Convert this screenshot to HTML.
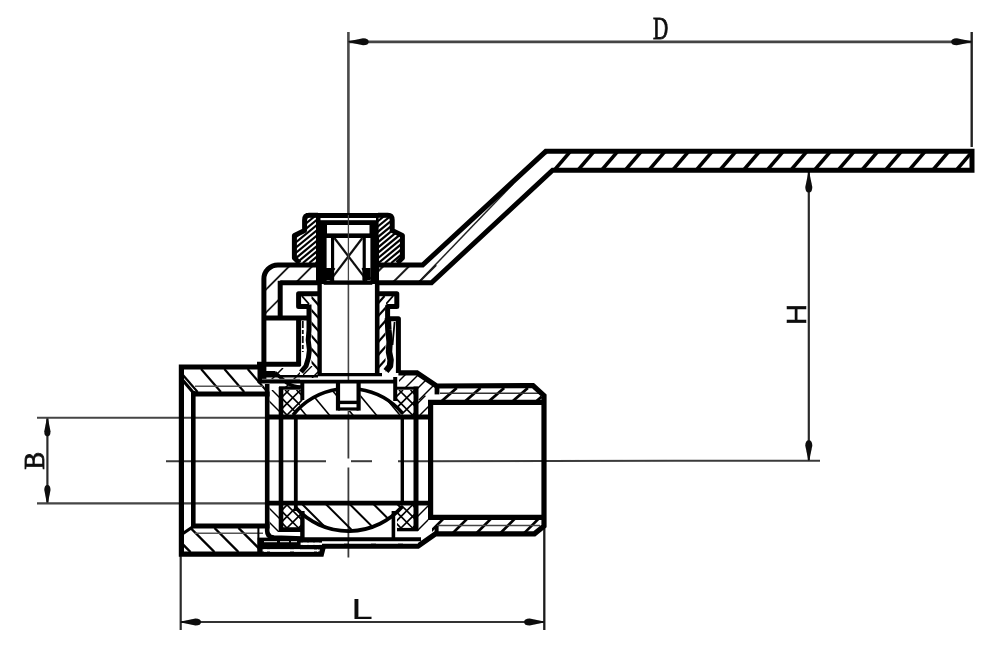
<!DOCTYPE html>
<html><head><meta charset="utf-8"><title>Ball valve drawing</title>
<style>html,body{margin:0;padding:0;background:#fff}svg{display:block}</style></head>
<body><svg width="1000" height="658" viewBox="0 0 1000 658">
<rect width="1000" height="658" fill="#fff"/>
<defs><filter id="soft" x="-2%" y="-2%" width="104%" height="104%"><feGaussianBlur stdDeviation="0.65"/></filter></defs>
<g filter="url(#soft)">
<line x1="348.4" y1="32" x2="348.4" y2="214" stroke="#4a4a4a" stroke-width="2.6" stroke-linecap="butt" />
<line x1="348.4" y1="214" x2="348.4" y2="236" stroke="#3a3a3a" stroke-width="2.0" stroke-linecap="butt" />
<line x1="348.4" y1="236" x2="348.4" y2="418" stroke="#444" stroke-width="1.6" stroke-linecap="butt" />
<line x1="348.4" y1="418" x2="348.4" y2="458.5" stroke="#3a3a3a" stroke-width="1.8" stroke-linecap="butt" />
<line x1="348.4" y1="467.5" x2="348.4" y2="557.5" stroke="#3a3a3a" stroke-width="1.8" stroke-linecap="butt" />
<line x1="166" y1="461.2" x2="326" y2="461.2" stroke="#3a3a3a" stroke-width="2.0" stroke-linecap="butt" />
<line x1="351" y1="461.2" x2="372" y2="461.2" stroke="#3a3a3a" stroke-width="2.0" stroke-linecap="butt" />
<line x1="398" y1="461.2" x2="820" y2="460.7" stroke="#3a3a3a" stroke-width="2.0" stroke-linecap="butt" />
<line x1="348.4" y1="41.8" x2="971.7" y2="41.8" stroke="#444" stroke-width="2.7" stroke-linecap="butt" />
<line x1="971.7" y1="32" x2="971.7" y2="147" stroke="#222" stroke-width="2.4" stroke-linecap="butt" />
<path transform="translate(348.7 41.8) rotate(180)" d="M0.5 0 L0 0.5 L-14.40 3.50 Q-20.00 3.50 -20.00 0 Q-20.00 -3.50 -14.40 -3.50 L0 -0.5 Z" fill="#0a0a0a"/>
<path transform="translate(971.2 41.8) rotate(0)" d="M0.5 0 L0 0.5 L-14.40 3.50 Q-20.00 3.50 -20.00 0 Q-20.00 -3.50 -14.40 -3.50 L0 -0.5 Z" fill="#0a0a0a"/>
<line x1="808.8" y1="172" x2="808.8" y2="460" stroke="#2a2a2a" stroke-width="2.2" stroke-linecap="butt" />
<path transform="translate(808.8 172.5) rotate(-90)" d="M0.5 0 L0 0.5 L-14.40 3.50 Q-20.00 3.50 -20.00 0 Q-20.00 -3.50 -14.40 -3.50 L0 -0.5 Z" fill="#0a0a0a"/>
<path transform="translate(808.8 460.2) rotate(90)" d="M0.5 0 L0 0.5 L-14.40 3.50 Q-20.00 3.50 -20.00 0 Q-20.00 -3.50 -14.40 -3.50 L0 -0.5 Z" fill="#0a0a0a"/>
<line x1="47.4" y1="418" x2="47.4" y2="503" stroke="#2a2a2a" stroke-width="2.2" stroke-linecap="butt" />
<path transform="translate(47.4 418) rotate(-90)" d="M0.5 0 L0 0.5 L-13.32 3.10 Q-18.50 3.10 -18.50 0 Q-18.50 -3.10 -13.32 -3.10 L0 -0.5 Z" fill="#0a0a0a"/>
<path transform="translate(47.4 503.4) rotate(90)" d="M0.5 0 L0 0.5 L-13.32 3.10 Q-18.50 3.10 -18.50 0 Q-18.50 -3.10 -13.32 -3.10 L0 -0.5 Z" fill="#0a0a0a"/>
<line x1="37" y1="417.8" x2="265" y2="417.8" stroke="#444" stroke-width="2.1" stroke-linecap="butt" />
<line x1="37" y1="503.4" x2="265" y2="503.4" stroke="#444" stroke-width="2.1" stroke-linecap="butt" />
<line x1="180.7" y1="556" x2="180.7" y2="630" stroke="#2a2a2a" stroke-width="2.2" stroke-linecap="butt" />
<line x1="544.3" y1="526" x2="544.3" y2="630" stroke="#1a1a1a" stroke-width="2.3" stroke-linecap="butt" />
<line x1="180.7" y1="622" x2="544.3" y2="622" stroke="#333" stroke-width="2.2" stroke-linecap="butt" />
<path transform="translate(181 622) rotate(180)" d="M0.5 0 L0 0.5 L-14.40 3.50 Q-20.00 3.50 -20.00 0 Q-20.00 -3.50 -14.40 -3.50 L0 -0.5 Z" fill="#0a0a0a"/>
<path transform="translate(544.1 622) rotate(0)" d="M0.5 0 L0 0.5 L-14.40 3.50 Q-20.00 3.50 -20.00 0 Q-20.00 -3.50 -14.40 -3.50 L0 -0.5 Z" fill="#0a0a0a"/>
<clipPath id="c1"><path d="M551 170 L545.5 151 L972 151 L972 170 Z"/></clipPath>
<g clip-path="url(#c1)" stroke="#000" stroke-width="3.5">
<line x1="483.55" y1="170" x2="499.75" y2="151"/>
<line x1="507.20" y1="170" x2="523.40" y2="151"/>
<line x1="530.85" y1="170" x2="547.05" y2="151"/>
<line x1="554.50" y1="170" x2="570.70" y2="151"/>
<line x1="578.15" y1="170" x2="594.35" y2="151"/>
<line x1="601.80" y1="170" x2="618.00" y2="151"/>
<line x1="625.45" y1="170" x2="641.65" y2="151"/>
<line x1="649.10" y1="170" x2="665.30" y2="151"/>
<line x1="672.75" y1="170" x2="688.95" y2="151"/>
<line x1="696.40" y1="170" x2="712.60" y2="151"/>
<line x1="720.05" y1="170" x2="736.25" y2="151"/>
<line x1="743.70" y1="170" x2="759.90" y2="151"/>
<line x1="767.35" y1="170" x2="783.55" y2="151"/>
<line x1="791.00" y1="170" x2="807.20" y2="151"/>
<line x1="814.65" y1="170" x2="830.85" y2="151"/>
<line x1="838.30" y1="170" x2="854.50" y2="151"/>
<line x1="861.95" y1="170" x2="878.15" y2="151"/>
<line x1="885.60" y1="170" x2="901.80" y2="151"/>
<line x1="909.25" y1="170" x2="925.45" y2="151"/>
<line x1="932.90" y1="170" x2="949.10" y2="151"/>
<line x1="956.55" y1="170" x2="972.75" y2="151"/>
<line x1="980.20" y1="170" x2="996.40" y2="151"/>
<line x1="1003.85" y1="170" x2="1020.05" y2="151"/>
</g>
<line x1="419.3" y1="281.5" x2="513" y2="184" stroke="#222" stroke-width="1.5" stroke-linecap="butt" />
<clipPath id="c2"><path d="M266 279 A12 12 0 0 1 278 267 L318 267 L318 282.6 L281 282.6 L281 318 L266 318 Z"/></clipPath>
<g clip-path="url(#c2)" stroke="#1a1a1a" stroke-width="1.9">
<line x1="168.50" y1="318" x2="221.50" y2="265"/>
<line x1="191.50" y1="318" x2="244.50" y2="265"/>
<line x1="214.50" y1="318" x2="267.50" y2="265"/>
<line x1="237.50" y1="318" x2="290.50" y2="265"/>
<line x1="260.50" y1="318" x2="313.50" y2="265"/>
<line x1="283.50" y1="318" x2="336.50" y2="265"/>
<line x1="306.50" y1="318" x2="359.50" y2="265"/>
<line x1="329.50" y1="318" x2="382.50" y2="265"/>
<line x1="352.50" y1="318" x2="405.50" y2="265"/>
<line x1="375.50" y1="318" x2="428.50" y2="265"/>
</g>
<clipPath id="c3"><path d="M378 265 L422 265 L440 250 L445 270 L431 282 L378 282 Z"/></clipPath>
<g clip-path="url(#c3)" stroke="#1a1a1a" stroke-width="2.0">
<line x1="315.90" y1="282" x2="332.90" y2="265"/>
<line x1="341.70" y1="282" x2="358.70" y2="265"/>
<line x1="367.50" y1="282" x2="384.50" y2="265"/>
<line x1="393.30" y1="282" x2="410.30" y2="265"/>
<line x1="419.10" y1="282" x2="436.10" y2="265"/>
<line x1="444.90" y1="282" x2="461.90" y2="265"/>
<line x1="470.70" y1="282" x2="487.70" y2="265"/>
</g>
<path d="M263.9 381 L263.9 279 A14 14 0 0 1 277.9 265 L318 265" fill="none" stroke="#000" stroke-width="5.0" stroke-linejoin="miter" stroke-linecap="butt"/>
<path d="M378 265 L422.6 265 L545.8 151.3 L972 151.3 L972 170.2 L552.6 170.2 L431.5 282.8 L378 282.8" fill="none" stroke="#000" stroke-width="5.0" stroke-linejoin="miter" stroke-linecap="butt"/>
<line x1="280.2" y1="282.8" x2="318" y2="282.8" stroke="#000" stroke-width="5.0" stroke-linecap="butt" />
<line x1="280.2" y1="280.8" x2="280.2" y2="318" stroke="#000" stroke-width="5.0" stroke-linecap="butt" />
<line x1="262" y1="318" x2="309" y2="318" stroke="#000" stroke-width="5.0" stroke-linecap="butt" />
<line x1="298.6" y1="318" x2="298.6" y2="366" stroke="#000" stroke-width="5.0" stroke-linecap="butt" />
<line x1="257" y1="364.2" x2="300.4" y2="364.2" stroke="#000" stroke-width="5.0" stroke-linecap="butt" />
<clipPath id="c4"><path d="M307 215.2 L318 215.2 L318 263 L299 263 L294.3 258 L294.3 235.5 L304.5 230.5 L304.5 219 Q304.5 215.2 308 215.2 Z"/></clipPath>
<g clip-path="url(#c4)" stroke="#000" stroke-width="2.2">
<line x1="226.00" y1="263" x2="284.29" y2="215"/>
<line x1="232.40" y1="263" x2="290.69" y2="215"/>
<line x1="238.80" y1="263" x2="297.09" y2="215"/>
<line x1="245.20" y1="263" x2="303.49" y2="215"/>
<line x1="251.60" y1="263" x2="309.89" y2="215"/>
<line x1="258.00" y1="263" x2="316.29" y2="215"/>
<line x1="264.40" y1="263" x2="322.69" y2="215"/>
<line x1="270.80" y1="263" x2="329.09" y2="215"/>
<line x1="277.20" y1="263" x2="335.49" y2="215"/>
<line x1="283.60" y1="263" x2="341.89" y2="215"/>
<line x1="290.00" y1="263" x2="348.29" y2="215"/>
<line x1="296.40" y1="263" x2="354.69" y2="215"/>
<line x1="302.80" y1="263" x2="361.09" y2="215"/>
<line x1="309.20" y1="263" x2="367.49" y2="215"/>
<line x1="315.60" y1="263" x2="373.89" y2="215"/>
<line x1="322.00" y1="263" x2="380.29" y2="215"/>
<line x1="328.40" y1="263" x2="386.69" y2="215"/>
<line x1="334.80" y1="263" x2="393.09" y2="215"/>
<line x1="341.20" y1="263" x2="399.49" y2="215"/>
<line x1="347.60" y1="263" x2="405.89" y2="215"/>
<line x1="354.00" y1="263" x2="412.29" y2="215"/>
<line x1="360.40" y1="263" x2="418.69" y2="215"/>
<line x1="366.80" y1="263" x2="425.09" y2="215"/>
<line x1="373.20" y1="263" x2="431.49" y2="215"/>
<line x1="379.60" y1="263" x2="437.89" y2="215"/>
</g>
<clipPath id="c5"><path d="M389.8 215.2 L378 215.2 L378 263 L397.8 263 L402.5 258 L402.5 235.5 L392.3 230.5 L392.3 219 Q392.3 215.2 388.8 215.2 Z"/></clipPath>
<g clip-path="url(#c5)" stroke="#000" stroke-width="2.2">
<line x1="308.00" y1="263" x2="366.29" y2="215"/>
<line x1="314.40" y1="263" x2="372.69" y2="215"/>
<line x1="320.80" y1="263" x2="379.09" y2="215"/>
<line x1="327.20" y1="263" x2="385.49" y2="215"/>
<line x1="333.60" y1="263" x2="391.89" y2="215"/>
<line x1="340.00" y1="263" x2="398.29" y2="215"/>
<line x1="346.40" y1="263" x2="404.69" y2="215"/>
<line x1="352.80" y1="263" x2="411.09" y2="215"/>
<line x1="359.20" y1="263" x2="417.49" y2="215"/>
<line x1="365.60" y1="263" x2="423.89" y2="215"/>
<line x1="372.00" y1="263" x2="430.29" y2="215"/>
<line x1="378.40" y1="263" x2="436.69" y2="215"/>
<line x1="384.80" y1="263" x2="443.09" y2="215"/>
<line x1="391.20" y1="263" x2="449.49" y2="215"/>
<line x1="397.60" y1="263" x2="455.89" y2="215"/>
<line x1="404.00" y1="263" x2="462.29" y2="215"/>
<line x1="410.40" y1="263" x2="468.69" y2="215"/>
<line x1="416.80" y1="263" x2="475.09" y2="215"/>
<line x1="423.20" y1="263" x2="481.49" y2="215"/>
<line x1="429.60" y1="263" x2="487.89" y2="215"/>
<line x1="436.00" y1="263" x2="494.29" y2="215"/>
<line x1="442.40" y1="263" x2="500.69" y2="215"/>
<line x1="448.80" y1="263" x2="507.09" y2="215"/>
<line x1="455.20" y1="263" x2="513.49" y2="215"/>
<line x1="461.60" y1="263" x2="519.89" y2="215"/>
</g>
<path d="M318 215.2 L309 215.2 Q304.6 215.2 304.6 220 L304.6 230.5 L294.4 235.5 L294.4 258 L299.5 263" fill="none" stroke="#000" stroke-width="5.0" stroke-linejoin="round" stroke-linecap="butt"/>
<path d="M378 215.2 L387.8 215.2 Q392.2 215.2 392.2 220 L392.2 230.5 L402.4 235.5 L402.4 258 L397.3 263" fill="none" stroke="#000" stroke-width="5.0" stroke-linejoin="round" stroke-linecap="butt"/>
<line x1="306" y1="215.2" x2="390" y2="215.2" stroke="#000" stroke-width="4.2" stroke-linecap="butt" />
<rect x="316" y="217" width="62.6" height="21" fill="#000"/>
<rect x="320.5" y="218.0" width="55.5" height="2.2" fill="#fff"/>
<rect x="327" y="225" width="42.5" height="8.4" fill="#fff"/>
<rect x="316" y="238" width="10.6" height="46" fill="#000"/>
<rect x="370.4" y="238" width="8.6" height="46" fill="#000"/>
<rect x="327.3" y="239.5" width="2.5" height="20" fill="#fff"/>
<rect x="367.0" y="239.5" width="2.5" height="20" fill="#fff"/>
<rect x="331" y="238" width="3.4" height="44" fill="#000"/>
<rect x="362.4" y="238" width="3.4" height="44" fill="#000"/>
<rect x="327.2" y="262" width="3" height="3" fill="#fff"/>
<rect x="366.6" y="262" width="3" height="3" fill="#fff"/>
<rect x="334.4" y="238" width="28" height="42.6" fill="#fff"/>
<line x1="334.4" y1="238" x2="367" y2="280.6" stroke="#111" stroke-width="2.2" stroke-linecap="butt" />
<line x1="362.4" y1="238" x2="330" y2="280.6" stroke="#111" stroke-width="2.2" stroke-linecap="butt" />
<path d="M334.4 268 L326.5 279" fill="none" stroke="#000" stroke-width="2.4" stroke-linejoin="miter" stroke-linecap="butt"/>
<path d="M362.4 268 L370.3 279" fill="none" stroke="#000" stroke-width="2.4" stroke-linejoin="miter" stroke-linecap="butt"/>
<rect x="326" y="268" width="8" height="12" fill="#000"/>
<rect x="362.6" y="268" width="8" height="12" fill="#000"/>
<rect x="323.7" y="280.4" width="48.6" height="4.4" fill="#000"/>
<line x1="348.4" y1="215" x2="348.4" y2="281" stroke="#444" stroke-width="1.3" stroke-linecap="butt" />
<line x1="319.6" y1="284" x2="319.6" y2="376" stroke="#000" stroke-width="4.4" stroke-linecap="butt" />
<line x1="377.2" y1="284" x2="377.2" y2="376" stroke="#000" stroke-width="4.6" stroke-linecap="butt" />
<line x1="318" y1="374.6" x2="382" y2="374.6" stroke="#000" stroke-width="3.2" stroke-linecap="butt" />
<clipPath id="c6"><path d="M311.5 296 L318 296 L318 372 L311.5 372 Z"/></clipPath>
<g clip-path="url(#c6)" stroke="#000" stroke-width="2.2">
<line x1="228.50" y1="372" x2="160.94" y2="296"/>
<line x1="240.00" y1="372" x2="172.44" y2="296"/>
<line x1="251.50" y1="372" x2="183.94" y2="296"/>
<line x1="263.00" y1="372" x2="195.44" y2="296"/>
<line x1="274.50" y1="372" x2="206.94" y2="296"/>
<line x1="286.00" y1="372" x2="218.44" y2="296"/>
<line x1="297.50" y1="372" x2="229.94" y2="296"/>
<line x1="309.00" y1="372" x2="241.44" y2="296"/>
<line x1="320.50" y1="372" x2="252.94" y2="296"/>
<line x1="332.00" y1="372" x2="264.44" y2="296"/>
<line x1="343.50" y1="372" x2="275.94" y2="296"/>
<line x1="355.00" y1="372" x2="287.44" y2="296"/>
<line x1="366.50" y1="372" x2="298.94" y2="296"/>
<line x1="378.00" y1="372" x2="310.44" y2="296"/>
<line x1="389.50" y1="372" x2="321.94" y2="296"/>
</g>
<clipPath id="c7"><path d="M379 296 L385.5 296 L385.5 372 L379 372 Z"/></clipPath>
<g clip-path="url(#c7)" stroke="#000" stroke-width="2.2">
<line x1="294.00" y1="372" x2="361.56" y2="296"/>
<line x1="305.50" y1="372" x2="373.06" y2="296"/>
<line x1="317.00" y1="372" x2="384.56" y2="296"/>
<line x1="328.50" y1="372" x2="396.06" y2="296"/>
<line x1="340.00" y1="372" x2="407.56" y2="296"/>
<line x1="351.50" y1="372" x2="419.06" y2="296"/>
<line x1="363.00" y1="372" x2="430.56" y2="296"/>
<line x1="374.50" y1="372" x2="442.06" y2="296"/>
<line x1="386.00" y1="372" x2="453.56" y2="296"/>
<line x1="397.50" y1="372" x2="465.06" y2="296"/>
<line x1="409.00" y1="372" x2="476.56" y2="296"/>
<line x1="420.50" y1="372" x2="488.06" y2="296"/>
<line x1="432.00" y1="372" x2="499.56" y2="296"/>
<line x1="443.50" y1="372" x2="511.06" y2="296"/>
<line x1="455.00" y1="372" x2="522.56" y2="296"/>
</g>
<clipPath id="c8"><path d="M301 296 L311 296 L311 304 L301 304 Z"/></clipPath>
<g clip-path="url(#c8)" stroke="#000" stroke-width="1.8">
<line x1="274.50" y1="304" x2="267.39" y2="296"/>
<line x1="286.00" y1="304" x2="278.89" y2="296"/>
<line x1="297.50" y1="304" x2="290.39" y2="296"/>
<line x1="309.00" y1="304" x2="301.89" y2="296"/>
<line x1="320.50" y1="304" x2="313.39" y2="296"/>
</g>
<clipPath id="c9"><path d="M386 296 L395 296 L395 304 L386 304 Z"/></clipPath>
<g clip-path="url(#c9)" stroke="#000" stroke-width="1.8">
<line x1="363.00" y1="304" x2="370.11" y2="296"/>
<line x1="374.50" y1="304" x2="381.61" y2="296"/>
<line x1="386.00" y1="304" x2="393.11" y2="296"/>
<line x1="397.50" y1="304" x2="404.61" y2="296"/>
<line x1="409.00" y1="304" x2="416.11" y2="296"/>
</g>
<path d="M318 293.7 L298.6 293.7 L298.6 306.4 L309 306.4" fill="none" stroke="#000" stroke-width="5.0" stroke-linejoin="round" stroke-linecap="butt"/>
<path d="M309 304.6 L309 330 L308.2 340 L309.4 350 L308.4 358 L306 366 L301 372" fill="none" stroke="#000" stroke-width="5.0" stroke-linejoin="round" stroke-linecap="butt"/>
<line x1="302.8" y1="321" x2="302.8" y2="352" stroke="#111" stroke-width="1.8" stroke-dasharray="7 2 4 2"/>
<path d="M379 293.7 L396.8 293.7 L396.8 306.4 L387.6 306.4 L387.6 318.8 L398.4 318.8 L398.4 373" fill="none" stroke="#000" stroke-width="5.0" stroke-linejoin="round" stroke-linecap="butt"/>
<path d="M387.8 318 L388.4 330 L389.6 342 L389.0 352 L390.6 360 L390 366 L386 371" fill="none" stroke="#000" stroke-width="6.4" stroke-linejoin="round" stroke-linecap="butt"/>
<path d="M394.6 322 L392.5 345" fill="none" stroke="#000" stroke-width="1.8" stroke-linejoin="miter" stroke-linecap="butt"/>
<clipPath id="c10"><path d="M184 369 L265 369 L265 392 L193 392 L184 381 Z"/></clipPath>
<g clip-path="url(#c10)" stroke="#000" stroke-width="2.2">
<line x1="127.73" y1="392" x2="107.87" y2="369"/>
<line x1="151.03" y1="392" x2="131.17" y2="369"/>
<line x1="174.33" y1="392" x2="154.47" y2="369"/>
<line x1="197.63" y1="392" x2="177.77" y2="369"/>
<line x1="220.93" y1="392" x2="201.07" y2="369"/>
<line x1="244.23" y1="392" x2="224.37" y2="369"/>
<line x1="267.53" y1="392" x2="247.67" y2="369"/>
<line x1="290.83" y1="392" x2="270.97" y2="369"/>
</g>
<clipPath id="c11"><path d="M184 533 L193 528 L258 528 L258 552 L184 552 Z"/></clipPath>
<g clip-path="url(#c11)" stroke="#000" stroke-width="2.4">
<line x1="118.50" y1="552" x2="94.50" y2="528"/>
<line x1="142.50" y1="552" x2="118.50" y2="528"/>
<line x1="166.50" y1="552" x2="142.50" y2="528"/>
<line x1="190.50" y1="552" x2="166.50" y2="528"/>
<line x1="214.50" y1="552" x2="190.50" y2="528"/>
<line x1="238.50" y1="552" x2="214.50" y2="528"/>
<line x1="262.50" y1="552" x2="238.50" y2="528"/>
<line x1="286.50" y1="552" x2="262.50" y2="528"/>
</g>
<line x1="195" y1="386.3" x2="263" y2="386.3" stroke="#555" stroke-width="1.6" stroke-linecap="butt" />
<line x1="195" y1="533.2" x2="263" y2="533.2" stroke="#555" stroke-width="1.6" stroke-linecap="butt" />
<clipPath id="c12"><path d="M439 388 L533 388 L542 397 L542 401 L432 401 L432 394 L439 394 Z"/></clipPath>
<g clip-path="url(#c12)" stroke="#000" stroke-width="2.8">
<line x1="370.70" y1="401" x2="385.65" y2="388"/>
<line x1="394.40" y1="401" x2="409.35" y2="388"/>
<line x1="418.10" y1="401" x2="433.05" y2="388"/>
<line x1="441.80" y1="401" x2="456.75" y2="388"/>
<line x1="465.50" y1="401" x2="480.45" y2="388"/>
<line x1="489.20" y1="401" x2="504.15" y2="388"/>
<line x1="512.90" y1="401" x2="527.85" y2="388"/>
<line x1="536.60" y1="401" x2="551.55" y2="388"/>
<line x1="560.30" y1="401" x2="575.25" y2="388"/>
</g>
<clipPath id="c13"><path d="M432 519 L542 519 L542 526 L533 532.5 L436 532.5 L432 535 Z"/></clipPath>
<g clip-path="url(#c13)" stroke="#000" stroke-width="2.6">
<line x1="381.50" y1="533" x2="395.50" y2="519"/>
<line x1="405.30" y1="533" x2="419.30" y2="519"/>
<line x1="429.10" y1="533" x2="443.10" y2="519"/>
<line x1="452.90" y1="533" x2="466.90" y2="519"/>
<line x1="476.70" y1="533" x2="490.70" y2="519"/>
<line x1="500.50" y1="533" x2="514.50" y2="519"/>
<line x1="524.30" y1="533" x2="538.30" y2="519"/>
<line x1="548.10" y1="533" x2="562.10" y2="519"/>
<line x1="571.90" y1="533" x2="585.90" y2="519"/>
</g>
<line x1="440" y1="393.2" x2="540" y2="393.2" stroke="#333" stroke-width="1.5" stroke-linecap="butt" />
<line x1="437" y1="525.6" x2="540" y2="525.6" stroke="#444" stroke-width="1.5" stroke-linecap="butt" />
<clipPath id="c14"><path d="M283 390 L303 390 L303 400 L293 415 L283 415 Z"/></clipPath>
<g clip-path="url(#c14)" stroke="#000" stroke-width="1.6">
<line x1="241.00" y1="415" x2="266.00" y2="390"/>
<line x1="252.50" y1="415" x2="277.50" y2="390"/>
<line x1="264.00" y1="415" x2="289.00" y2="390"/>
<line x1="275.50" y1="415" x2="300.50" y2="390"/>
<line x1="287.00" y1="415" x2="312.00" y2="390"/>
<line x1="298.50" y1="415" x2="323.50" y2="390"/>
<line x1="310.00" y1="415" x2="335.00" y2="390"/>
<line x1="321.50" y1="415" x2="346.50" y2="390"/>
<line x1="333.00" y1="415" x2="358.00" y2="390"/>
<line x1="241.00" y1="415" x2="216.00" y2="390"/>
<line x1="252.50" y1="415" x2="227.50" y2="390"/>
<line x1="264.00" y1="415" x2="239.00" y2="390"/>
<line x1="275.50" y1="415" x2="250.50" y2="390"/>
<line x1="287.00" y1="415" x2="262.00" y2="390"/>
<line x1="298.50" y1="415" x2="273.50" y2="390"/>
<line x1="310.00" y1="415" x2="285.00" y2="390"/>
<line x1="321.50" y1="415" x2="296.50" y2="390"/>
<line x1="333.00" y1="415" x2="308.00" y2="390"/>
</g>
<clipPath id="c15"><path d="M397 390 L414 390 L414 415 L402 415 L397 408 Z"/></clipPath>
<g clip-path="url(#c15)" stroke="#000" stroke-width="1.6">
<line x1="355.00" y1="415" x2="380.00" y2="390"/>
<line x1="366.50" y1="415" x2="391.50" y2="390"/>
<line x1="378.00" y1="415" x2="403.00" y2="390"/>
<line x1="389.50" y1="415" x2="414.50" y2="390"/>
<line x1="401.00" y1="415" x2="426.00" y2="390"/>
<line x1="412.50" y1="415" x2="437.50" y2="390"/>
<line x1="424.00" y1="415" x2="449.00" y2="390"/>
<line x1="435.50" y1="415" x2="460.50" y2="390"/>
<line x1="447.00" y1="415" x2="472.00" y2="390"/>
<line x1="355.00" y1="415" x2="330.00" y2="390"/>
<line x1="366.50" y1="415" x2="341.50" y2="390"/>
<line x1="378.00" y1="415" x2="353.00" y2="390"/>
<line x1="389.50" y1="415" x2="364.50" y2="390"/>
<line x1="401.00" y1="415" x2="376.00" y2="390"/>
<line x1="412.50" y1="415" x2="387.50" y2="390"/>
<line x1="424.00" y1="415" x2="399.00" y2="390"/>
<line x1="435.50" y1="415" x2="410.50" y2="390"/>
<line x1="447.00" y1="415" x2="422.00" y2="390"/>
</g>
<clipPath id="c16"><path d="M283 505 L296 505 L302 513 L302 528 L283 528 Z"/></clipPath>
<g clip-path="url(#c16)" stroke="#000" stroke-width="1.6">
<line x1="241.00" y1="528" x2="264.00" y2="505"/>
<line x1="252.50" y1="528" x2="275.50" y2="505"/>
<line x1="264.00" y1="528" x2="287.00" y2="505"/>
<line x1="275.50" y1="528" x2="298.50" y2="505"/>
<line x1="287.00" y1="528" x2="310.00" y2="505"/>
<line x1="298.50" y1="528" x2="321.50" y2="505"/>
<line x1="310.00" y1="528" x2="333.00" y2="505"/>
<line x1="321.50" y1="528" x2="344.50" y2="505"/>
<line x1="333.00" y1="528" x2="356.00" y2="505"/>
<line x1="241.00" y1="528" x2="218.00" y2="505"/>
<line x1="252.50" y1="528" x2="229.50" y2="505"/>
<line x1="264.00" y1="528" x2="241.00" y2="505"/>
<line x1="275.50" y1="528" x2="252.50" y2="505"/>
<line x1="287.00" y1="528" x2="264.00" y2="505"/>
<line x1="298.50" y1="528" x2="275.50" y2="505"/>
<line x1="310.00" y1="528" x2="287.00" y2="505"/>
<line x1="321.50" y1="528" x2="298.50" y2="505"/>
<line x1="333.00" y1="528" x2="310.00" y2="505"/>
</g>
<clipPath id="c17"><path d="M402 505 L414 505 L414 528 L397 528 L397 513 Z"/></clipPath>
<g clip-path="url(#c17)" stroke="#000" stroke-width="1.6">
<line x1="355.00" y1="528" x2="378.00" y2="505"/>
<line x1="366.50" y1="528" x2="389.50" y2="505"/>
<line x1="378.00" y1="528" x2="401.00" y2="505"/>
<line x1="389.50" y1="528" x2="412.50" y2="505"/>
<line x1="401.00" y1="528" x2="424.00" y2="505"/>
<line x1="412.50" y1="528" x2="435.50" y2="505"/>
<line x1="424.00" y1="528" x2="447.00" y2="505"/>
<line x1="435.50" y1="528" x2="458.50" y2="505"/>
<line x1="447.00" y1="528" x2="470.00" y2="505"/>
<line x1="355.00" y1="528" x2="332.00" y2="505"/>
<line x1="366.50" y1="528" x2="343.50" y2="505"/>
<line x1="378.00" y1="528" x2="355.00" y2="505"/>
<line x1="389.50" y1="528" x2="366.50" y2="505"/>
<line x1="401.00" y1="528" x2="378.00" y2="505"/>
<line x1="412.50" y1="528" x2="389.50" y2="505"/>
<line x1="424.00" y1="528" x2="401.00" y2="505"/>
<line x1="435.50" y1="528" x2="412.50" y2="505"/>
<line x1="447.00" y1="528" x2="424.00" y2="505"/>
</g>
<clipPath id="c18"><path d="M269.5 390 L279 390 L279 415 L269.5 415 Z"/></clipPath>
<g clip-path="url(#c18)" stroke="#000" stroke-width="1.4">
<line x1="227.00" y1="415" x2="202.00" y2="390"/>
<line x1="241.00" y1="415" x2="216.00" y2="390"/>
<line x1="255.00" y1="415" x2="230.00" y2="390"/>
<line x1="269.00" y1="415" x2="244.00" y2="390"/>
<line x1="283.00" y1="415" x2="258.00" y2="390"/>
<line x1="297.00" y1="415" x2="272.00" y2="390"/>
<line x1="311.00" y1="415" x2="286.00" y2="390"/>
</g>
<clipPath id="c19"><path d="M269.5 505 L279 505 L279 532 L269.5 532 Z"/></clipPath>
<g clip-path="url(#c19)" stroke="#000" stroke-width="1.4">
<line x1="223.00" y1="532" x2="196.00" y2="505"/>
<line x1="237.00" y1="532" x2="210.00" y2="505"/>
<line x1="251.00" y1="532" x2="224.00" y2="505"/>
<line x1="265.00" y1="532" x2="238.00" y2="505"/>
<line x1="279.00" y1="532" x2="252.00" y2="505"/>
<line x1="293.00" y1="532" x2="266.00" y2="505"/>
<line x1="307.00" y1="532" x2="280.00" y2="505"/>
</g>
<clipPath id="c20"><path d="M418 390 L428.5 398 L428.5 415 L418 415 Z"/></clipPath>
<g clip-path="url(#c20)" stroke="#000" stroke-width="1.4">
<line x1="378.00" y1="415" x2="403.00" y2="390"/>
<line x1="392.00" y1="415" x2="417.00" y2="390"/>
<line x1="406.00" y1="415" x2="431.00" y2="390"/>
<line x1="420.00" y1="415" x2="445.00" y2="390"/>
<line x1="434.00" y1="415" x2="459.00" y2="390"/>
<line x1="448.00" y1="415" x2="473.00" y2="390"/>
<line x1="462.00" y1="415" x2="487.00" y2="390"/>
</g>
<clipPath id="c21"><path d="M418 505 L428.5 505 L428.5 528 L418 536 Z"/></clipPath>
<g clip-path="url(#c21)" stroke="#000" stroke-width="1.4">
<line x1="370.00" y1="536" x2="401.00" y2="505"/>
<line x1="384.00" y1="536" x2="415.00" y2="505"/>
<line x1="398.00" y1="536" x2="429.00" y2="505"/>
<line x1="412.00" y1="536" x2="443.00" y2="505"/>
<line x1="426.00" y1="536" x2="457.00" y2="505"/>
<line x1="440.00" y1="536" x2="471.00" y2="505"/>
<line x1="454.00" y1="536" x2="485.00" y2="505"/>
<line x1="468.00" y1="536" x2="499.00" y2="505"/>
</g>
<clipPath id="c22"><path d="M293.0 415.04 A71.3 71.3 0 0 1 402.5 413.24 L402.5 416.6 L293.0 416.6 Z"/></clipPath>
<g clip-path="url(#c22)" stroke="#000" stroke-width="1.6">
<line x1="237.00" y1="417" x2="210.33" y2="385"/>
<line x1="260.50" y1="417" x2="233.83" y2="385"/>
<line x1="284.00" y1="417" x2="257.33" y2="385"/>
<line x1="307.50" y1="417" x2="280.83" y2="385"/>
<line x1="331.00" y1="417" x2="304.33" y2="385"/>
<line x1="354.50" y1="417" x2="327.83" y2="385"/>
<line x1="378.00" y1="417" x2="351.33" y2="385"/>
<line x1="401.50" y1="417" x2="374.83" y2="385"/>
<line x1="425.00" y1="417" x2="398.33" y2="385"/>
<line x1="448.50" y1="417" x2="421.83" y2="385"/>
</g>
<clipPath id="c23"><path d="M293.0 504.56 A71.3 71.3 0 0 0 402.5 506.36 L402.5 503.2 L293.0 503.2 Z"/></clipPath>
<g clip-path="url(#c23)" stroke="#000" stroke-width="2.0">
<line x1="234.80" y1="532" x2="205.80" y2="503"/>
<line x1="258.60" y1="532" x2="229.60" y2="503"/>
<line x1="282.40" y1="532" x2="253.40" y2="503"/>
<line x1="306.20" y1="532" x2="277.20" y2="503"/>
<line x1="330.00" y1="532" x2="301.00" y2="503"/>
<line x1="353.80" y1="532" x2="324.80" y2="503"/>
<line x1="377.60" y1="532" x2="348.60" y2="503"/>
<line x1="401.40" y1="532" x2="372.40" y2="503"/>
<line x1="425.20" y1="532" x2="396.20" y2="503"/>
<line x1="449.00" y1="532" x2="420.00" y2="503"/>
</g>
<rect x="336" y="383" width="24.5" height="28" fill="#fff"/>
<path d="M293.0 415.04 A71.3 71.3 0 0 1 338 389.28" fill="none" stroke="#000" stroke-width="3.6"/>
<path d="M359 389.28 A71.3 71.3 0 0 1 402.5 413.24" fill="none" stroke="#000" stroke-width="3.6"/>
<path d="M296.0 508.04 A71.3 71.3 0 0 0 402.5 506.36" fill="none" stroke="#000" stroke-width="3.8"/>
<line x1="338" y1="383" x2="338" y2="410.6" stroke="#000" stroke-width="4.2" stroke-linecap="butt" />
<line x1="358.6" y1="383" x2="358.6" y2="410.6" stroke="#000" stroke-width="4.2" stroke-linecap="butt" />
<line x1="338" y1="402.4" x2="358.6" y2="402.4" stroke="#000" stroke-width="3.4" stroke-linecap="butt" />
<line x1="338" y1="409" x2="358.6" y2="409" stroke="#000" stroke-width="3.2" stroke-linecap="butt" />
<clipPath id="c24"><path d="M399 374 L417 374 L435 386 L430 400 L418 400 L418 388 L399 388 Z"/></clipPath>
<g clip-path="url(#c24)" stroke="#000" stroke-width="1.4">
<line x1="354.00" y1="400" x2="380.00" y2="374"/>
<line x1="367.00" y1="400" x2="393.00" y2="374"/>
<line x1="380.00" y1="400" x2="406.00" y2="374"/>
<line x1="393.00" y1="400" x2="419.00" y2="374"/>
<line x1="406.00" y1="400" x2="432.00" y2="374"/>
<line x1="419.00" y1="400" x2="445.00" y2="374"/>
<line x1="432.00" y1="400" x2="458.00" y2="374"/>
<line x1="445.00" y1="400" x2="471.00" y2="374"/>
<line x1="458.00" y1="400" x2="484.00" y2="374"/>
<line x1="471.00" y1="400" x2="497.00" y2="374"/>
</g>
<clipPath id="c25"><path d="M266 368 L300 368 L300 388 L284 388 L270 383 Z"/></clipPath>
<g clip-path="url(#c25)" stroke="#000" stroke-width="1.5">
<line x1="219.00" y1="388" x2="239.00" y2="368"/>
<line x1="241.00" y1="388" x2="261.00" y2="368"/>
<line x1="263.00" y1="388" x2="283.00" y2="368"/>
<line x1="285.00" y1="388" x2="305.00" y2="368"/>
<line x1="307.00" y1="388" x2="327.00" y2="368"/>
<line x1="329.00" y1="388" x2="349.00" y2="368"/>
</g>
<clipPath id="c26"><path d="M303 366 L318 366 L318 378 L303 378 Z"/></clipPath>
<g clip-path="url(#c26)" stroke="#000" stroke-width="1.3">
<line x1="276.00" y1="378" x2="288.00" y2="366"/>
<line x1="288.00" y1="378" x2="300.00" y2="366"/>
<line x1="300.00" y1="378" x2="312.00" y2="366"/>
<line x1="312.00" y1="378" x2="324.00" y2="366"/>
<line x1="324.00" y1="378" x2="336.00" y2="366"/>
<line x1="336.00" y1="378" x2="348.00" y2="366"/>
</g>
<path d="M259 367 L181.4 367 L181.4 554.2 L321.4 554.2 L323.6 545.6" fill="none" stroke="#000" stroke-width="5.2" stroke-linejoin="miter" stroke-linecap="butt"/>
<line x1="193.3" y1="391" x2="193.3" y2="528" stroke="#000" stroke-width="4.6" stroke-linecap="butt" />
<line x1="183" y1="380.5" x2="194" y2="393.5" stroke="#000" stroke-width="3.2" stroke-linecap="butt" />
<line x1="183" y1="533.5" x2="194" y2="526" stroke="#000" stroke-width="3.2" stroke-linecap="butt" />
<line x1="191" y1="394" x2="269.6" y2="394" stroke="#000" stroke-width="4.8" stroke-linecap="butt" />
<line x1="191" y1="526" x2="269.6" y2="526" stroke="#000" stroke-width="4.8" stroke-linecap="butt" />
<path d="M267.2 384 L267.2 531 Q267.2 537 274 537.6 L303 538.6" fill="none" stroke="#000" stroke-width="4.6" stroke-linejoin="miter" stroke-linecap="butt"/>
<path d="M281 387 L281 529.6 L304 529.6" fill="none" stroke="#000" stroke-width="4.6" stroke-linejoin="miter" stroke-linecap="butt"/>
<line x1="279" y1="388" x2="300" y2="388" stroke="#000" stroke-width="3.4" stroke-linecap="butt" />
<line x1="259.8" y1="365" x2="259.8" y2="383" stroke="#000" stroke-width="4.6" stroke-linecap="butt" />
<rect x="262" y="371" width="13.5" height="4.4" fill="#000"/>
<line x1="258" y1="376.2" x2="318" y2="376.2" stroke="#000" stroke-width="2.6" stroke-linecap="butt" />
<path d="M275 372.6 L287 383 Q293 386.6 301 387" fill="none" stroke="#000" stroke-width="3.4" stroke-linejoin="miter" stroke-linecap="butt"/>
<line x1="262" y1="379.4" x2="300" y2="379.4" stroke="#777" stroke-width="1.2" stroke-linecap="butt" />
<line x1="258" y1="381.6" x2="397" y2="381.6" stroke="#000" stroke-width="3.8" stroke-linecap="butt" />
<line x1="267" y1="417" x2="432" y2="417" stroke="#000" stroke-width="4.8" stroke-linecap="butt" />
<line x1="267" y1="503.2" x2="432" y2="503.2" stroke="#000" stroke-width="4.8" stroke-linecap="butt" />
<line x1="295.8" y1="416" x2="295.8" y2="511" stroke="#000" stroke-width="3.8" stroke-linecap="butt" />
<line x1="402.3" y1="416" x2="402.3" y2="504" stroke="#000" stroke-width="3.4" stroke-linecap="butt" />
<line x1="302.3" y1="383" x2="302.3" y2="400" stroke="#000" stroke-width="4.0" stroke-linecap="butt" />
<line x1="395.2" y1="377" x2="395.2" y2="401" stroke="#000" stroke-width="4.0" stroke-linecap="butt" />
<line x1="302.4" y1="511" x2="302.4" y2="540" stroke="#000" stroke-width="4.4" stroke-linecap="butt" />
<line x1="393.4" y1="511" x2="393.4" y2="538" stroke="#000" stroke-width="3.6" stroke-linecap="butt" />
<line x1="416" y1="386.5" x2="416" y2="531" stroke="#000" stroke-width="5.0" stroke-linecap="butt" />
<line x1="396.7" y1="388.2" x2="418" y2="388.2" stroke="#000" stroke-width="3.0" stroke-linecap="butt" />
<line x1="397" y1="529.6" x2="418" y2="529.6" stroke="#000" stroke-width="3.4" stroke-linecap="butt" />
<path d="M542 402.4 L430.6 402.4 L430.6 517.4 L543 517.4" fill="none" stroke="#000" stroke-width="5.2" stroke-linejoin="miter" stroke-linecap="butt"/>
<path d="M398.4 372.8 L417 372.8 L436.5 386 L533 385.6 L544 395.6 L544 526 L534.4 533.8 L435.5 533.8 L418 546.2 L322 546.2" fill="none" stroke="#000" stroke-width="5.2" stroke-linejoin="miter" stroke-linecap="butt"/>
<rect x="434.6" y="385" width="4.8" height="9.4" fill="#000"/>
<rect x="434.6" y="526" width="4.0" height="8" fill="#000"/>
<line x1="303" y1="539.2" x2="421" y2="539.2" stroke="#000" stroke-width="4.0" stroke-linecap="butt" />
<line x1="322" y1="542.7" x2="418" y2="542.7" stroke="#fff" stroke-width="1.6" stroke-dasharray="22 5"/>
<rect x="257.6" y="537.6" width="43" height="11.6" fill="#000"/>
<line x1="300" y1="540.4" x2="322" y2="540.4" stroke="#000" stroke-width="4.4" stroke-linecap="butt" />
<line x1="300" y1="547.2" x2="322" y2="547.2" stroke="#000" stroke-width="4.6" stroke-linecap="butt" />
<line x1="264" y1="541.6" x2="297" y2="541.6" stroke="#ccc" stroke-width="1.3" stroke-dasharray="13 3 9 2"/>
<line x1="264" y1="550.6" x2="318" y2="550.6" stroke="#fff" stroke-width="2.4" stroke-dasharray="3 3 20 4 20 3"/>
<line x1="303" y1="543.8" x2="320" y2="543.8" stroke="#fff" stroke-width="2.0" stroke-dasharray="4 2"/>
<line x1="258.4" y1="528" x2="258.4" y2="553" stroke="#000" stroke-width="2.0" stroke-linecap="butt" />
<rect x="257.6" y="549" width="5" height="6" fill="#000"/>
<text transform="translate(660.6 38.6) rotate(0) scale(0.68 1)" font-family="'Liberation Serif', serif" font-size="31" font-weight="normal" text-anchor="middle" fill="#111" stroke="#111" stroke-width="0.9">D</text>
<text transform="translate(362.2 619.2) rotate(0) scale(1.26 1)" font-family="'Liberation Sans', sans-serif" font-size="30.2" font-weight="normal" text-anchor="middle" fill="#111" stroke="#111" stroke-width="0.2">L</text>
<text transform="translate(805.5 314.5) rotate(-90) scale(1.08 1)" font-family="'Liberation Sans', sans-serif" font-size="27.6" font-weight="normal" text-anchor="middle" fill="#111" stroke="#111" stroke-width="0.5">H</text>
<text transform="translate(44.0 460.7) rotate(-90) scale(0.9 1)" font-family="'Liberation Serif', serif" font-size="29.3" font-weight="normal" text-anchor="middle" fill="#111" stroke="#111" stroke-width="0.9">B</text>
</g>
</svg></body></html>
